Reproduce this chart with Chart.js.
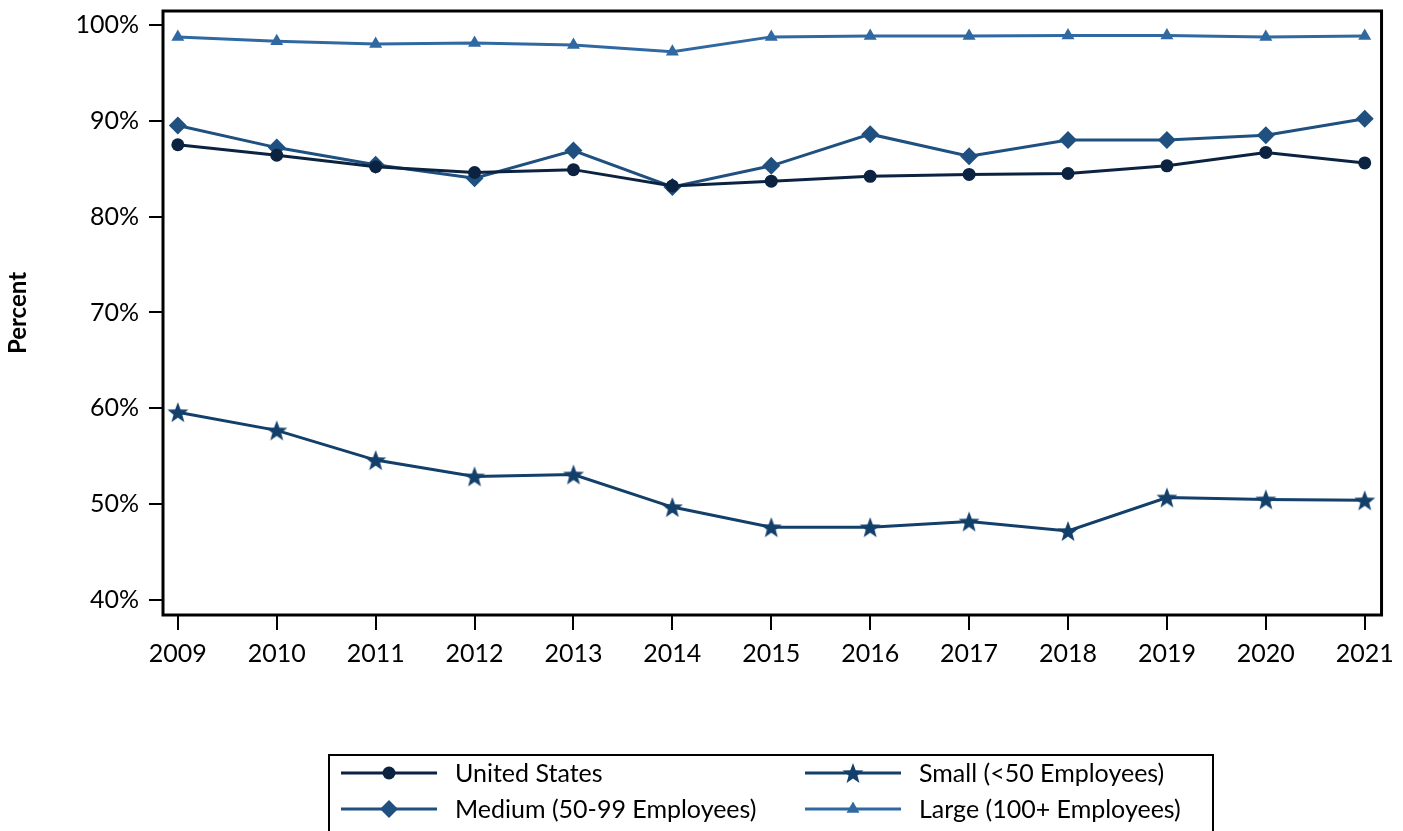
<!DOCTYPE html>
<html>
<head>
<meta charset="utf-8">
<script src="https://cdn.jsdelivr.net/npm/chart.js@4/dist/chart.umd.min.js"></script>
<style>
  html, body { margin: 0; padding: 0; background: #fff; }
  #wrap { width: 1403px; height: 831px; position: relative; }
</style>
</head>
<body>
<div id="wrap"><canvas id="chart" width="1403" height="831"></canvas></div>
<script>
// years along the bottom
const years = [2009, 2010, 2011, 2012, 2013, 2014, 2015, 2016, 2017, 2018, 2019, 2020, 2021];
const yTicks = [40, 50, 60, 70, 80, 90, 100];

// percent values per series
const unitedStates = [87.5, 86.4, 85.2, 84.6, 84.9, 83.2, 83.7, 84.2, 84.4, 84.5, 85.3, 86.7, 85.6];
const small = [59.6, 57.7, 54.6, 52.9, 53.1, 49.7, 47.6, 47.6, 48.2, 47.2, 50.7, 50.5, 50.4];
const medium = [89.5, 87.2, 85.4, 84.0, 86.9, 83.1, 85.3, 88.6, 86.3, 88.0, 88.0, 88.5, 90.2];
const large = [98.75, 98.3, 98.0, 98.1, 97.9, 97.2, 98.75, 98.85, 98.85, 98.9, 98.9, 98.75, 98.85];

const FONT = "Lato, 'Open Sans', sans-serif";

// filled five point star, chart.js' own 'star' is only stroked
const make_star = (color, size) => {
    const c = document.createElement("canvas");
    c.width = size; c.height = size;
    const g = c.getContext("2d");
    const cx = size / 2, cy = size / 2 + 1, R = size / 2, r = R * 0.42;
    g.beginPath();
    for (let i = 0; i < 10; i++) {
        const rad = i % 2 === 0 ? R : r;
        const a = -Math.PI / 2 + i * Math.PI / 5;
        g.lineTo(cx + rad * Math.cos(a), cy + rad * Math.sin(a));
    }
    g.closePath();
    g.fillStyle = color;
    g.fill();
    return c;
};

const colors = { us: "#0b2341", small: "#133f6b", medium: "#1f5080", large: "#3068a2" };
const starImg = make_star(colors.small, 22);

const toPoints = (arr) => arr.map((v, i) => ({ x: years[i], y: v }));

const series = [
    { label: "United States", data: unitedStates, color: colors.us, style: "circle", radius: 6.5 },
    { label: "Medium (50-99 Employees)", data: medium, color: colors.medium, style: "rectRot", radius: 9 },
    { label: "Large (100+ Employees)", data: large, color: colors.large, style: "triangle", radius: 7.5 },
    { label: "Small (<50 Employees)", data: small, color: colors.small, style: starImg, radius: 11 },
];

const frame_plugin = {
    id: "frame",
    afterDraw(chart) {
        const { ctx, chartArea: a } = chart;
        ctx.save();
        ctx.strokeStyle = "#000";
        ctx.lineWidth = 3;
        ctx.strokeRect(a.left, a.top, a.right - a.left, a.bottom - a.top);
        ctx.restore();
    }
};

// two column legend in a box at the bottom
const legend_plugin = {
    id: "boxLegend",
    afterDraw(chart) {
        const ctx = chart.ctx;
        ctx.save();
        ctx.strokeStyle = "#000";
        ctx.lineWidth = 2;
        ctx.strokeRect(329, 755, 884, 90);
        const slots = [
            { i: 0, x: 341, y: 773 },
            { i: 3, x: 805, y: 773 },
            { i: 1, x: 341, y: 809 },
            { i: 2, x: 805, y: 809 },
        ];
        ctx.font = "25px " + FONT;
        ctx.textBaseline = "middle";
        slots.forEach((s) => {
            const ser = series[s.i];
            ctx.strokeStyle = ser.color;
            ctx.lineWidth = 3;
            ctx.beginPath();
            ctx.moveTo(s.x, s.y);
            ctx.lineTo(s.x + 96, s.y);
            ctx.stroke();
            ctx.fillStyle = ser.color;
            Chart.helpers.drawPoint(ctx, { pointStyle: ser.style, radius: ser.radius, rotation: 0, borderWidth: 0 }, s.x + 48, s.y);
            ctx.fillStyle = "#000";
            ctx.fillText(ser.label, s.x + 114, s.y + 1);
        });
        ctx.restore();
    }
};

const ctx = document.getElementById("chart").getContext("2d");

new Chart(ctx, {
    type: "line",
    data: {
        datasets: series.map((s) => ({
            label: s.label,
            data: toPoints(s.data),
            borderColor: s.color,
            backgroundColor: s.color,
            borderWidth: 3,
            pointStyle: s.style,
            pointRadius: s.radius,
            pointBorderWidth: 0,
            pointBackgroundColor: s.color,
            tension: 0,
        })),
    },
    options: {
        responsive: false,
        animation: false,
        events: [],
        layout: { padding: { top: 8, right: 20, left: 0, bottom: 156 } },
        plugins: { legend: { display: false }, tooltip: { enabled: false } },
        scales: {
            x: {
                type: "linear",
                min: 2008.85,
                max: 2021.17,
                afterBuildTicks: (scale) => { scale.ticks = years.map((v) => ({ value: v })); },
                afterFit: (scale) => { scale.height = 60; },
                grid: { drawOnChartArea: false, drawTicks: true, tickLength: 15, color: "#000", lineWidth: 2 },
                border: { display: false },
                ticks: {
                    color: "#000",
                    padding: 9,
                    maxRotation: 0,
                    autoSkip: false,
                    font: { family: FONT, size: 25 },
                    callback: (v) => String(v),
                },
            },
            y: {
                min: 38.44,
                max: 101.45,
                afterBuildTicks: (scale) => { scale.ticks = yTicks.map((v) => ({ value: v })); },
                afterFit: (scale) => { scale.width = 163; scale.paddingTop = 0; scale.paddingBottom = 0; },
                grid: { drawOnChartArea: false, drawTicks: true, tickLength: 14, color: "#000", lineWidth: 2 },
                border: { display: false },
                title: {
                    display: true,
                    text: "Percent",
                    color: "#000",
                    font: { family: FONT, size: 24, weight: "bold" },
                    padding: { top: 4, bottom: 0 },
                },
                ticks: {
                    color: "#000",
                    padding: 10,
                    font: { family: FONT, size: 25 },
                    callback: (v) => v + "%",
                },
            },
        },
    },
    plugins: [frame_plugin, legend_plugin],
});
</script>
</body>
</html>
